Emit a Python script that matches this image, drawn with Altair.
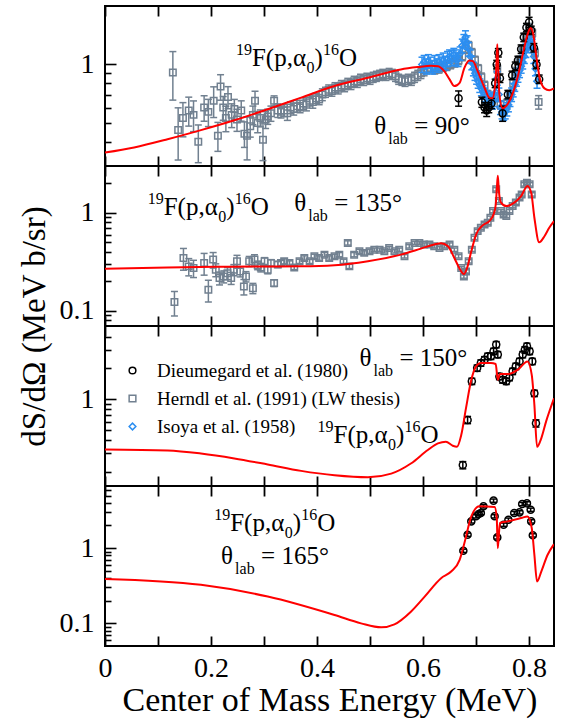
import altair as alt
import pandas as pd

# ---------------- values ----------------
# R-matrix fits (energy in MeV, cross section in MeV b/sr)
FIT90_E = [0.0, 0.055, 0.118, 0.181, 0.244, 0.307, 0.370, 0.433, 0.496, 0.558,
           0.590, 0.615, 0.628, 0.640, 0.650, 0.659, 0.669, 0.678, 0.687, 0.694,
           0.703, 0.716, 0.725, 0.731, 0.736, 0.7385, 0.740, 0.7415, 0.744, 0.750,
           0.757, 0.766, 0.779, 0.788, 0.797, 0.803, 0.808, 0.814, 0.820, 0.829,
           0.838, 0.847]
FIT90_V = [0.352, 0.374, 0.412, 0.459, 0.516, 0.588, 0.675, 0.774, 0.854, 0.943,
           0.969, 0.984, 0.98, 0.924, 0.838, 0.774, 0.805, 0.961, 1.048, 1.04,
           0.924, 0.759, 0.675, 0.67, 0.79, 1.0, 1.27, 1.0, 0.702, 0.595,
           0.612, 0.675, 0.871, 1.126, 1.425, 1.54, 1.425, 1.08, 0.854, 0.753,
           0.736, 0.753]

FIT135_E = [0.0, 0.118, 0.244, 0.370, 0.433, 0.496, 0.558, 0.596, 0.621, 0.634,
            0.647, 0.659, 0.669, 0.677, 0.683, 0.691, 0.700, 0.713, 0.725, 0.733,
            0.737, 0.739, 0.741, 0.743, 0.747, 0.757, 0.772, 0.785, 0.797, 0.804,
            0.810, 0.819, 0.829, 0.838, 0.847]
FIT135_V = [0.269, 0.277, 0.282, 0.284, 0.291, 0.32, 0.374, 0.431, 0.474, 0.49,
            0.455, 0.346, 0.269, 0.237, 0.273, 0.405, 0.6, 0.748, 0.822, 0.962,
            1.2, 1.7, 2.38, 1.67, 1.27, 1.17, 1.27, 1.48, 1.88, 1.6,
            0.89, 0.5, 0.577, 0.703, 0.822]

FIT150_E = [0.0, 0.118, 0.181, 0.244, 0.307, 0.370, 0.433, 0.496, 0.540, 0.577,
            0.609, 0.628, 0.643, 0.656, 0.664, 0.672, 0.681, 0.691, 0.700, 0.709,
            0.728, 0.737, 0.741, 0.745, 0.760, 0.779, 0.797, 0.805, 0.810, 0.815,
            0.823, 0.832, 0.847]
FIT150_V = [0.327, 0.32, 0.299, 0.268, 0.234, 0.203, 0.184, 0.176, 0.191, 0.239,
            0.323, 0.374, 0.389, 0.355, 0.347, 0.45, 0.819, 1.54, 2.08, 2.24,
            2.24, 2.19, 1.54, 1.75, 1.75, 1.93, 2.32, 1.72, 0.882, 0.347,
            0.419, 0.607, 1.02]

FIT165_E = [0.0, 0.181, 0.307, 0.433, 0.483, 0.521, 0.546, 0.577, 0.603, 0.634,
            0.653, 0.669, 0.678, 0.691, 0.706, 0.735, 0.739, 0.741, 0.745, 0.760,
            0.785, 0.797, 0.805, 0.810, 0.815, 0.823, 0.835, 0.847]
FIT165_V = [0.39, 0.325, 0.227, 0.129, 0.1, 0.0885, 0.097, 0.143, 0.227, 0.399,
            0.489, 0.7, 1.17, 2.64, 3.6, 3.52, 2.51, 1.0, 2.16, 2.27,
            2.51, 2.64, 1.85, 0.816, 0.36, 0.489, 0.816, 1.13]

# Herndl et al. (1991), 90 deg
HER90_E = [0.128, 0.138, 0.147, 0.158, 0.167, 0.176, 0.187, 0.195, 0.205, 0.213,
           0.218, 0.223, 0.228, 0.232, 0.239, 0.244, 0.249, 0.257, 0.263, 0.268,
           0.274, 0.279, 0.283, 0.288, 0.293, 0.298, 0.303, 0.307, 0.313, 0.319,
           0.326,
           0.332, 0.338, 0.344, 0.350, 0.356, 0.362, 0.368, 0.374, 0.380, 0.386,
           0.392, 0.398, 0.404, 0.410, 0.416, 0.422,
           0.428, 0.434, 0.440, 0.446, 0.452, 0.458, 0.464, 0.470, 0.476, 0.482,
           0.488, 0.494, 0.500, 0.506, 0.512, 0.518, 0.524, 0.530, 0.536, 0.542,
           0.548,
           0.554, 0.560, 0.566, 0.572, 0.578, 0.584, 0.590, 0.596, 0.602,
           0.608, 0.615, 0.622, 0.630, 0.638, 0.645, 0.652, 0.660, 0.667, 0.674,
           0.680, 0.686, 0.692, 0.698, 0.704, 0.710, 0.716, 0.722, 0.728, 0.734,
           0.740, 0.746, 0.752, 0.758, 0.764, 0.770, 0.776, 0.782, 0.788, 0.794,
           0.800, 0.806, 0.811, 0.818]
HER90_V = [0.91, 0.46, 0.53, 0.58, 0.55, 0.40, 0.60, 0.57, 0.65, 0.43,
           0.77, 0.60, 0.53, 0.68, 0.55, 0.59, 0.52, 0.58, 0.44, 0.43,
           0.48, 0.55, 0.65, 0.50, 0.53, 0.41, 0.52, 0.54, 0.56, 0.65,
           0.58,
           0.57, 0.58, 0.56, 0.60, 0.59, 0.61, 0.60, 0.63, 0.62, 0.65,
           0.64, 0.67, 0.66, 0.70, 0.72, 0.74,
           0.73, 0.76, 0.75, 0.78, 0.77, 0.80, 0.79, 0.82, 0.81, 0.84,
           0.83, 0.85, 0.84, 0.86, 0.87, 0.88, 0.89, 0.88, 0.90, 0.89,
           0.87,
           0.84, 0.83, 0.82, 0.84, 0.83, 0.86, 0.88, 0.90, 0.93,
           0.95, 0.96, 0.94, 0.95, 0.97, 0.98, 1.00, 1.02, 1.05, 1.10,
           1.20, 1.25, 1.15, 1.05, 0.95, 0.86, 0.78, 0.70, 0.66, 0.68,
           0.95, 0.62, 0.58, 0.63, 0.70, 0.80, 0.92, 1.05, 1.20, 1.38,
           1.55, 1.45, 1.15, 0.64]
HER90_ERR = [0.28, 0.30, 0.20, 0.17, 0.18, 0.22, 0.15, 0.16, 0.18, 0.17,
             0.15, 0.14, 0.15, 0.13, 0.14, 0.12, 0.13, 0.12, 0.15, 0.25,
             0.12, 0.11, 0.12, 0.11, 0.10, 0.22, 0.10, 0.09, 0.09, 0.06,
             0.08,
             0.07, 0.07, 0.08, 0.07, 0.07, 0.07, 0.06, 0.07, 0.07, 0.06,
             0.07, 0.06, 0.06, 0.07, 0.06, 0.06,
             0.06, 0.06, 0.06, 0.06, 0.06, 0.06, 0.06, 0.06, 0.06, 0.06,
             0.06, 0.06, 0.06, 0.06, 0.06, 0.06, 0.06, 0.06, 0.06, 0.06,
             0.06,
             0.06, 0.06, 0.06, 0.06, 0.06, 0.06, 0.06, 0.06, 0.06,
             0.05, 0.05, 0.05, 0.05, 0.05, 0.05, 0.05, 0.05, 0.05, 0.05,
             0.05, 0.05, 0.05, 0.05, 0.05, 0.05, 0.05, 0.05, 0.05, 0.05,
             0.05, 0.05, 0.05, 0.05, 0.05, 0.05, 0.05, 0.05, 0.05, 0.05,
             0.05, 0.05, 0.05, 0.08]

# Isoya et al. (1958), 90 deg
ISO90_E = [0.598, 0.602, 0.606, 0.610, 0.614, 0.618, 0.622, 0.626, 0.630, 0.634,
           0.638, 0.642, 0.646, 0.650, 0.654, 0.658, 0.662, 0.666, 0.670, 0.674,
           0.677, 0.680, 0.683, 0.686, 0.689, 0.692, 0.695, 0.698, 0.701, 0.704,
           0.707, 0.710, 0.713, 0.716, 0.719, 0.722, 0.725, 0.728, 0.731, 0.734,
           0.737, 0.740, 0.743, 0.746, 0.749, 0.752, 0.755, 0.758, 0.761, 0.764,
           0.767, 0.770, 0.773, 0.776, 0.779, 0.782, 0.785, 0.788, 0.791, 0.794,
           0.797, 0.800, 0.803, 0.806, 0.809, 0.812, 0.815]
ISO90_V = [1.00, 1.03, 0.98, 1.04, 1.00, 0.97, 1.02, 0.99, 1.03, 1.01,
           1.05, 1.02, 1.07, 1.10, 1.08, 1.12, 1.09, 1.06, 1.14, 1.25,
           1.32, 1.38, 1.30, 1.20, 1.10, 1.02, 0.95, 0.90, 0.86, 0.82,
           0.78, 0.75, 0.72, 0.70, 0.68, 0.67, 0.66, 0.65, 0.64, 0.66,
           0.72, 0.85, 0.70, 0.60, 0.57, 0.56, 0.57, 0.59, 0.62, 0.66,
           0.70, 0.74, 0.79, 0.84, 0.88, 0.93, 0.98, 1.03, 1.10, 1.18,
           1.25, 1.30, 1.32, 1.25, 1.10, 0.95, 0.82]
ISO90_ERR = [0.09, 0.08, 0.09, 0.08, 0.09, 0.08, 0.09, 0.08, 0.09, 0.08,
             0.09, 0.08, 0.09, 0.08, 0.09, 0.08, 0.09, 0.08, 0.08, 0.08,
             0.08, 0.08, 0.08, 0.08, 0.08, 0.08, 0.08, 0.08, 0.08, 0.08,
             0.08, 0.08, 0.08, 0.08, 0.08, 0.08, 0.08, 0.08, 0.08, 0.08,
             0.08, 0.08, 0.08, 0.08, 0.08, 0.08, 0.08, 0.08, 0.08, 0.08,
             0.08, 0.08, 0.08, 0.08, 0.08, 0.08, 0.08, 0.08, 0.08, 0.08,
             0.08, 0.08, 0.08, 0.08, 0.08, 0.08, 0.08]

# Dieumegard et al. (1980)
DIE90_E = [0.667, 0.711, 0.716, 0.720, 0.724, 0.729, 0.736, 0.739, 0.742, 0.745,
           0.750, 0.760, 0.768, 0.774, 0.779, 0.785, 0.790, 0.795, 0.800, 0.804,
           0.809, 0.814, 0.819]
DIE90_V = [0.67, 0.64, 0.60, 0.58, 0.60, 0.63, 0.80, 1.00, 1.15, 0.85,
           0.56, 0.70, 0.88, 0.98, 1.05, 1.20, 1.38, 1.55, 1.65, 1.50,
           1.22, 1.00, 0.84]
DIE90_ERR = [0.09, 0.06, 0.06, 0.07, 0.06, 0.06, 0.05, 0.05, 0.05, 0.05,
             0.09, 0.05, 0.05, 0.05, 0.05, 0.05, 0.05, 0.05, 0.06, 0.05,
             0.05, 0.05, 0.05]

# Herndl et al. (1991), 135 deg
HER135_E = [0.131, 0.148, 0.158, 0.167, 0.187, 0.195, 0.204, 0.209, 0.216, 0.224,
            0.231, 0.238, 0.243, 0.249, 0.255, 0.262, 0.266, 0.272, 0.279, 0.282,
            0.288, 0.294, 0.301, 0.307, 0.313, 0.319, 0.326, 0.332, 0.338, 0.348,
            0.357, 0.367, 0.376, 0.386, 0.395, 0.404, 0.414, 0.423, 0.433, 0.442,
            0.450, 0.458, 0.461, 0.470, 0.480, 0.489, 0.499, 0.508, 0.518, 0.527,
            0.536, 0.546, 0.555, 0.565, 0.574, 0.584, 0.593, 0.602, 0.612, 0.621,
            0.631, 0.640, 0.650, 0.659, 0.667, 0.672, 0.677, 0.681, 0.686, 0.692,
            0.697, 0.703, 0.709, 0.716, 0.722, 0.727, 0.732, 0.738, 0.743, 0.747,
            0.752, 0.757, 0.763, 0.769, 0.775, 0.782, 0.786, 0.791, 0.796, 0.801,
            0.805]
HER135_V = [0.123, 0.346, 0.284, 0.273, 0.308, 0.164, 0.333, 0.262, 0.216, 0.224,
            0.242, 0.216, 0.262, 0.32, 0.252, 0.177, 0.224, 0.32, 0.17, 0.333,
            0.292, 0.277, 0.32, 0.262, 0.308, 0.192, 0.297, 0.308, 0.32, 0.308,
            0.277, 0.32, 0.346, 0.32, 0.36, 0.346, 0.374, 0.346, 0.36, 0.374,
            0.32, 0.493, 0.284, 0.374, 0.405, 0.39, 0.405, 0.42, 0.42, 0.405,
            0.437, 0.405, 0.42, 0.36, 0.455, 0.493, 0.493, 0.474, 0.474, 0.455,
            0.437, 0.455, 0.474, 0.42, 0.36, 0.273, 0.224, 0.252, 0.32, 0.42,
            0.555, 0.65, 0.703, 0.76, 0.79, 0.889, 1.04, 1.735, 1.32, 1.04,
            0.962, 0.925, 1.04, 1.17, 1.27, 1.43, 1.54, 1.95, 2.03, 1.95,
            1.54]
HER135_ERR = [0.28, 0.25, 0.20, 0.20, 0.25, 0.25, 0.18, 0.15, 0.15, 0.14,
              0.14, 0.14, 0.13, 0.15, 0.12, 0.18, 0.12, 0.12, 0.12, 0.12,
              0.10, 0.10, 0.09, 0.09, 0.08, 0.08, 0.07, 0.06, 0.06, 0.05,
              0.05, 0.05, 0.05, 0.05, 0.05, 0.05, 0.05, 0.05, 0.05, 0.05,
              0.05, 0.05, 0.05, 0.05, 0.05, 0.05, 0.05, 0.04, 0.04, 0.04,
              0.04, 0.04, 0.04, 0.04, 0.04, 0.04, 0.04, 0.04, 0.04, 0.04,
              0.04, 0.04, 0.04, 0.04, 0.04, 0.04, 0.04, 0.04, 0.04, 0.04,
              0.04, 0.04, 0.04, 0.04, 0.04, 0.04, 0.04, 0.04, 0.04, 0.04,
              0.04, 0.04, 0.04, 0.04, 0.04, 0.04, 0.04, 0.04, 0.04, 0.04,
              0.04]

DIE150_E = [0.675, 0.684, 0.692, 0.702, 0.709, 0.716, 0.722, 0.728, 0.733, 0.738,
            0.741, 0.744, 0.750, 0.757, 0.763, 0.769, 0.775, 0.782, 0.788, 0.792,
            0.796, 0.801, 0.806, 0.810, 0.813]
DIE150_V = [0.231, 0.631, 1.49, 2.0, 2.24, 2.41, 2.6, 2.6, 2.9, 3.37,
            2.7, 1.66, 1.54, 1.49, 1.62, 1.86, 2.08, 2.32, 2.7, 3.0,
            3.25, 2.9, 2.32, 1.14, 0.585]
DIE150_ERR = [0.08, 0.08, 0.07, 0.07, 0.07, 0.07, 0.07, 0.07, 0.07, 0.07,
              0.07, 0.07, 0.07, 0.07, 0.07, 0.07, 0.07, 0.07, 0.07, 0.07,
              0.07, 0.07, 0.07, 0.07, 0.08]

DIE165_E = [0.676, 0.684, 0.691, 0.700, 0.705, 0.709, 0.714, 0.733, 0.735, 0.740,
            0.752, 0.761, 0.772, 0.782, 0.787, 0.796, 0.803, 0.804, 0.807]
DIE165_V = [0.923, 1.51, 2.27, 2.65, 2.84, 2.93, 3.6, 4.28, 2.65, 1.39,
            2.05, 2.39, 2.93, 2.99, 3.86, 3.94, 3.24, 2.27, 1.48]
DIE165_ERR = [0.05, 0.05, 0.05, 0.05, 0.05, 0.05, 0.05, 0.05, 0.05, 0.05,
              0.05, 0.05, 0.05, 0.05, 0.05, 0.05, 0.05, 0.05, 0.05]

SERIES_NAMES = ["Dieumegard et al. (1980)", "Herndl et al. (1991) (LW thesis)",
                "Isoya et al. (1958)"]

# annotation anchors (energy, cross section) for each panel
REACTION_AT = {90: (0.247, 0.98), 135: (0.0805, 0.947), 150: (0.401, 0.374), 165: (0.206, 1.67)}
THETA_AT = {90: (0.508, 0.437), 135: (0.357, 1.04), 150: (0.48, 2.08), 165: (0.219, 0.612)}

# ---------------- styling ----------------
FONT = "Liberation Serif"
PANEL_W, PANEL_H = 449, 160
E_MAX = 0.847
RED, GRAY, BLUE, BLACK = "#ff0000", "#718090", "#2c8ef0", "#000000"
X_TICKS = [0.0, 0.1, 0.2, 0.3, 0.4, 0.5, 0.6, 0.7, 0.8]
X_LABELS = [0.0, 0.2, 0.4, 0.6, 0.8]
MAIN, SCRIPT = 25, 16


def table(e, v, err=None):
    assert len(e) == len(v)
    d = pd.DataFrame({"E": e, "v": v})
    if err is not None:
        assert len(err) == len(e)
        r = pd.Series(err)
        d["lo"] = d["v"] * (1 - r)
        d["hi"] = d["v"] * (1 + r)
    return d


def axis_sets(label_vals, major, minor, x_labels, y_title):
    common = dict(grid=False, domain=False)
    tick = dict(labels=False, ticks=True, tickColor=BLACK, title=None, **common)
    x_lab = None
    if x_labels:
        x_lab = alt.Axis(orient="bottom", values=X_LABELS, format="~g", ticks=False,
                         tickSize=0, labelFont=FONT, labelFontSize=28, labelColor=BLACK,
                         labelPadding=8, labelFlush=False,
                         title="Center of Mass Energy (MeV)", titleFont=FONT,
                         titleFontSize=34, titleFontWeight="normal", titleColor=BLACK,
                         titlePadding=1, **common)
    ykw = dict(orient="left", values=label_vals, format="~g", ticks=False, tickSize=0,
               labelFont=FONT, labelFontSize=28, labelColor=BLACK, labelPadding=11,
               minExtent=50, maxExtent=50, **common)
    if y_title:
        ykw.update(title=y_title, titleFont=FONT, titleFontSize=33,
                   titleFontWeight="normal", titleColor=BLACK, titleAngle=270,
                   titleAlign="center", titleBaseline="alphabetic",
                   titleX=-61, titleY=PANEL_H)
    else:
        ykw.update(title=None)
    y_lab = alt.Axis(**ykw)
    x_up = alt.Axis(orient="top", offset=-PANEL_H, values=X_TICKS, tickSize=10,
                    tickWidth=1.8, **tick)
    x_dn = alt.Axis(orient="bottom", offset=-PANEL_H, values=X_TICKS, tickSize=10,
                    tickWidth=1.8, **tick)
    y_major = alt.Axis(orient="right", offset=-PANEL_W, values=major, tickSize=11,
                       tickWidth=1.6, **tick)
    y_minor = alt.Axis(orient="right", offset=-PANEL_W, values=minor, tickSize=6,
                       tickWidth=1.6, **tick)
    return [(x_lab, y_lab), (x_up, y_major), (x_dn, y_minor)]


LEGEND = alt.Legend(orient="none", legendX=18, legendY=35, title=None,
                    labelFont=FONT, labelFontSize=19, labelColor=BLACK, labelLimit=500,
                    symbolSize=45, symbolStrokeWidth=1.5, rowPadding=8,
                    labelOffset=15, padding=0)


def text_pieces(anchor, pieces, xs, ys):
    df = pd.DataFrame({"E": [anchor[0]], "v": [anchor[1]]})
    out = []
    for txt, size, dx, dy in pieces:
        out.append(alt.Chart(df).mark_text(text=txt, font=FONT, fontSize=size,
                                           align="left", baseline="alphabetic",
                                           dx=dx, dy=dy, color=BLACK).encode(
            x=alt.X("E:Q", scale=xs, axis=None),
            y=alt.Y("v:Q", scale=ys, axis=None)))
    return out


def reaction_label(anchor, xs, ys):
    pieces = [("19", SCRIPT, 0, -11), ("F(p,α", MAIN, 16, 0), ("0", SCRIPT, 70.5, 7),
              (")", MAIN, 78.5, 0), ("16", SCRIPT, 87, -11), ("O", MAIN, 103, 0)]
    return text_pieces(anchor, pieces, xs, ys)


def theta_label(anchor, angle, xs, ys):
    pieces = [("θ", MAIN, 0, 0), ("lab", SCRIPT, 14, 10), (f"= {angle}°", MAIN, 40, 0)]
    return text_pieces(anchor, pieces, xs, ys)


def panel(angle, ydom, label_vals, major, minor, groups, fit, x_labels=False,
          y_title=None, legend=False):
    xs = alt.Scale(domain=[0, E_MAX], nice=False)
    ys = alt.Scale(type="log", domain=ydom, nice=False)
    axes = axis_sets(label_vals, major, minor, x_labels, y_title)

    def nxt():
        return axes.pop(0) if axes else (None, None)

    layers = []
    for df, color, shape, name, size in groups:
        xa, ya = nxt()
        layers.append(alt.Chart(df).mark_rule(color=color, strokeWidth=1.5, clip=True).encode(
            x=alt.X("E:Q", scale=xs, axis=xa),
            y=alt.Y("lo:Q", scale=ys, axis=ya), y2="hi:Q"))
        for end in ("lo", "hi"):
            xa, ya = nxt()
            layers.append(alt.Chart(df).mark_tick(color=color, orient="horizontal", size=7,
                                                  thickness=1.5, opacity=1, clip=True).encode(
                x=alt.X("E:Q", scale=xs, axis=xa),
                y=alt.Y(f"{end}:Q", scale=ys, axis=ya)))
        pts = alt.Chart(df.assign(series=name)).mark_point(
            shape=shape, filled=False, color=color, size=size, strokeWidth=1.5,
            opacity=1, clip=True)
        enc = dict(x=alt.X("E:Q", scale=xs, axis=None), y=alt.Y("v:Q", scale=ys, axis=None))
        if legend:
            enc["color"] = alt.Color("series:N", scale=alt.Scale(domain=SERIES_NAMES,
                                     range=[BLACK, GRAY, BLUE]), legend=LEGEND)
            enc["shape"] = alt.Shape("series:N", scale=alt.Scale(domain=SERIES_NAMES,
                                     range=["circle", "square", "diamond"]), legend=LEGEND)
        layers.append(pts.encode(**enc))

    layers.append(alt.Chart(fit).mark_line(color=RED, strokeWidth=2, interpolate="monotone",
                                           clip=True).encode(
        x=alt.X("E:Q", scale=xs, axis=None), y=alt.Y("v:Q", scale=ys, axis=None)))
    layers += reaction_label(REACTION_AT[angle], xs, ys)
    layers += theta_label(THETA_AT[angle], angle, xs, ys)
    return (alt.layer(*layers)
            .resolve_axis(x="independent", y="independent")
            .properties(width=PANEL_W, height=PANEL_H))


her90 = (table(HER90_E, HER90_V, HER90_ERR), GRAY, "square", SERIES_NAMES[1], 42)
iso90 = (table(ISO90_E, ISO90_V, ISO90_ERR), BLUE, "diamond", SERIES_NAMES[2], 42)
die90 = (table(DIE90_E, DIE90_V, DIE90_ERR), BLACK, "circle", SERIES_NAMES[0], 50)
her135 = (table(HER135_E, HER135_V, HER135_ERR), GRAY, "square", SERIES_NAMES[1], 42)
die150 = (table(DIE150_E, DIE150_V, DIE150_ERR), BLACK, "circle", SERIES_NAMES[0], 50)
die165 = (table(DIE165_E, DIE165_V, DIE165_ERR), BLACK, "circle", SERIES_NAMES[0], 50)

p90 = panel(90, [0.3, 2.0], [1], [1], [0.4, 0.5, 0.6, 0.7, 0.8, 0.9],
            [her90, iso90, die90], table(FIT90_E, FIT90_V))
p135 = panel(135, [0.07, 3.0], [0.1, 1], [0.1, 1],
             [0.08, 0.09, 0.2, 0.3, 0.4, 0.5, 0.6, 0.7, 0.8, 0.9, 2],
             [her135], table(FIT135_E, FIT135_V), y_title="dS/dΩ (MeV b/sr)")
p150 = panel(150, [0.145, 5.1], [1], [1],
             [0.2, 0.3, 0.4, 0.5, 0.6, 0.7, 0.8, 0.9, 2, 3, 4],
             [die150], table(FIT150_E, FIT150_V), legend=True)
p165 = panel(165, [0.05, 6.7], [0.1, 1], [0.1, 1],
             [0.06, 0.07, 0.08, 0.09, 0.2, 0.3, 0.4, 0.5, 0.6, 0.7, 0.8, 0.9, 2, 3, 4, 5, 6],
             [die165], table(FIT165_E, FIT165_V), x_labels=True)

chart = (alt.vconcat(p90, p135, p150, p165, spacing=0, bounds="flush")
         .resolve_scale(x="independent", y="independent", color="independent",
                        shape="independent")
         .configure(font=FONT)
         .configure_axis(labelFont=FONT, titleFont=FONT)
         .configure_legend(labelFont=FONT, titleFont=FONT)
         .configure_text(font=FONT)
         .configure_view(stroke=BLACK, strokeWidth=2)
         .properties(padding={"left": 17, "top": 4, "right": 5, "bottom": 5},
                     background="white"))

chart.save("out.html", embed_options={"renderer": "svg", "actions": False})
